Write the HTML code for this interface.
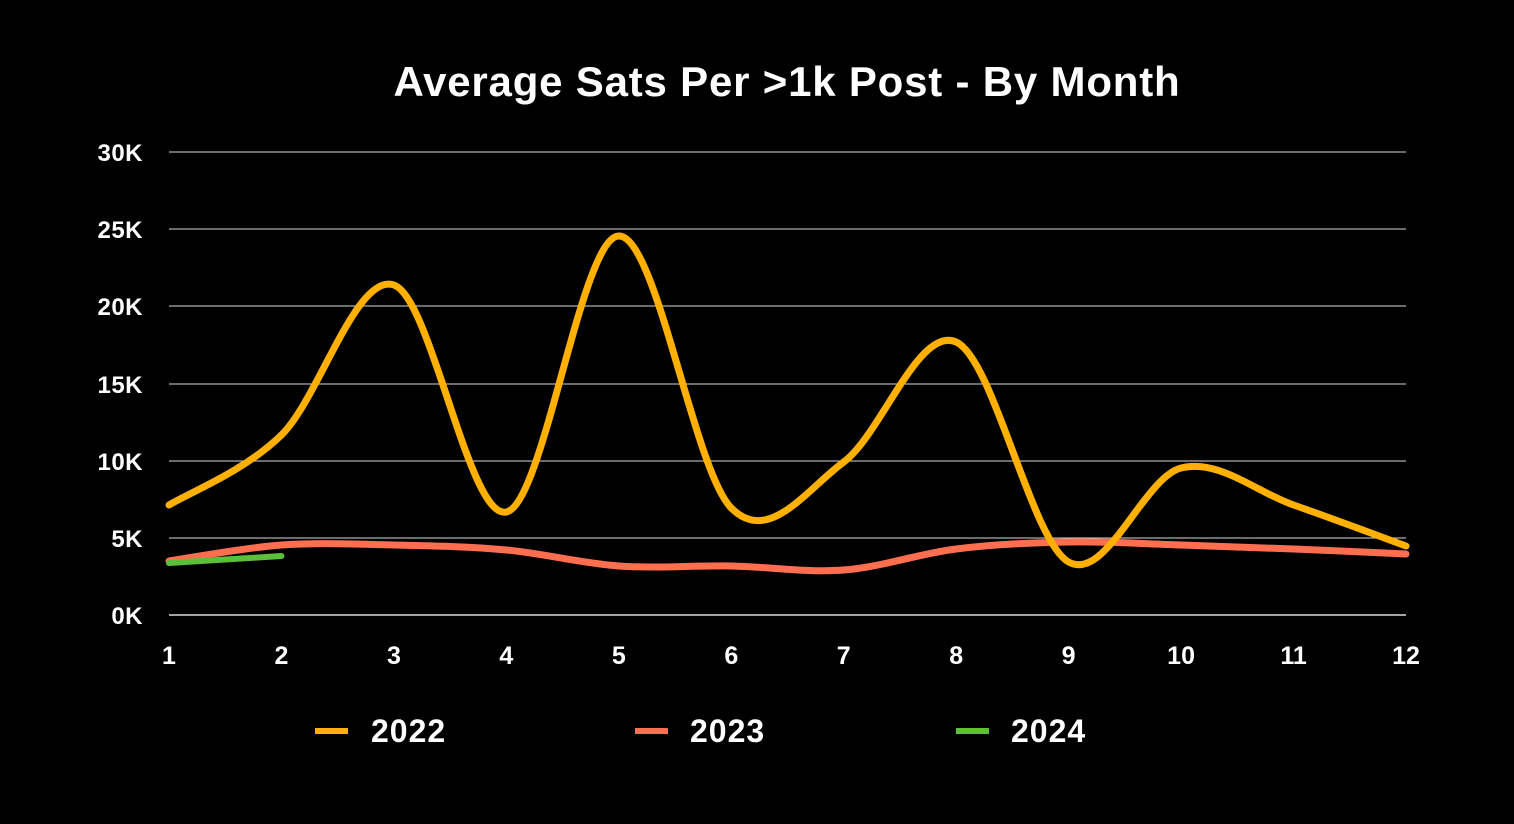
<!DOCTYPE html>
<html><head><meta charset="utf-8"><style>
html,body{margin:0;padding:0;background:#000;}
svg{display:block;}
text{font-family:"Liberation Sans",sans-serif;font-weight:bold;fill:#fff;}
</style></head><body>
<svg id="c" width="1514" height="824" viewBox="0 0 1514 824">
<rect width="1514" height="824" fill="#000"/>
<text x="787" y="96" font-size="42" letter-spacing="0.8" text-anchor="middle">Average Sats Per &gt;1k Post - By Month</text>
<g stroke="#d9d9d9" stroke-width="1">
<line x1="169" x2="1406" y1="152" y2="152"/>
<line x1="169" x2="1406" y1="229" y2="229"/>
<line x1="169" x2="1406" y1="306" y2="306"/>
<line x1="169" x2="1406" y1="384" y2="384"/>
<line x1="169" x2="1406" y1="461" y2="461"/>
<line x1="169" x2="1406" y1="538" y2="538"/>
<line x1="169" x2="1406" y1="615" y2="615" stroke-width="1.5"/>
</g>
<g font-size="24" letter-spacing="0.5" text-anchor="end">
<text x="143" y="161">30K</text>
<text x="143" y="238">25K</text>
<text x="143" y="315">20K</text>
<text x="143" y="393">15K</text>
<text x="143" y="470">10K</text>
<text x="143" y="547">5K</text>
<text x="143" y="624">0K</text>
</g>
<g id="xl" font-size="25" text-anchor="middle"></g>
<g id="series" fill="none" stroke-linecap="round"></g>
<line x1="315" x2="348" y1="731" y2="731" stroke="#FFB000" stroke-width="6"/>
<text x="371" y="742" font-size="32" letter-spacing="1">2022</text>
<line x1="635" x2="668" y1="731" y2="731" stroke="#FF6F4F" stroke-width="6"/>
<text x="690" y="742" font-size="32" letter-spacing="1">2023</text>
<line x1="956" x2="989" y1="731" y2="731" stroke="#5CBF3A" stroke-width="6"/>
<text x="1011" y="742" font-size="32" letter-spacing="1">2024</text>
</svg>
<script>
var ns="http://www.w3.org/2000/svg";
var X=function(i){return 169+(1406-169)*i/11;};
var xl=document.getElementById("xl");
for(var i=0;i<12;i++){var t=document.createElementNS(ns,"text");t.setAttribute("x",X(i));t.setAttribute("y",664);t.textContent=i+1;xl.appendChild(t);}
function path(ys){
 var p=ys.map(function(y,i){return [X(i),y];});
 var d="M"+p[0][0]+","+p[0][1];
 for(var i=0;i<p.length-1;i++){
  var p0=p[i-1]||p[i],p1=p[i],p2=p[i+1],p3=p[i+2]||p2;
  var k=6;
  d+=" C"+(p1[0]+(p2[0]-p0[0])/k)+","+(p1[1]+(p2[1]-p0[1])/k)+" "+(p2[0]-(p3[0]-p1[0])/k)+","+(p2[1]-(p3[1]-p1[1])/k)+" "+p2[0]+","+p2[1];
 }
 return d;
}
var s=document.getElementById("series");
function add(ys,col,w){var e=document.createElementNS(ns,"path");e.setAttribute("d",path(ys));e.setAttribute("stroke",col);e.setAttribute("stroke-width",w);s.appendChild(e);}
add([561,545,545,550,566,566,570,549,542,545,549,554],"#FF6F4F",7);
add([563,556],"#5CBF3A",6);
add([505,435,285,512,236,508,462,342,562,468,505,546],"#FFB000",7);
</script>
</body></html>
